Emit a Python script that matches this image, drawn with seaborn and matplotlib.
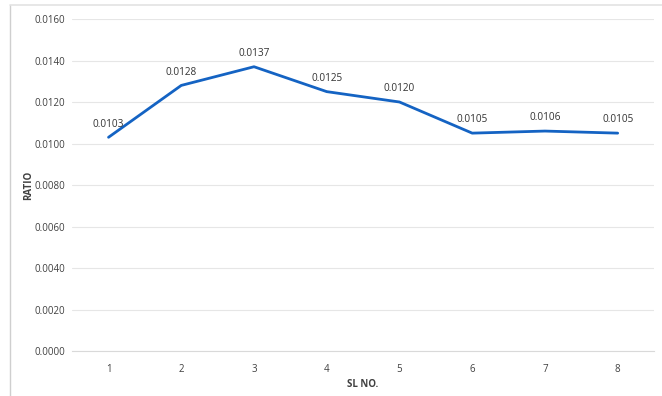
import matplotlib
matplotlib.use("Agg")
import matplotlib.pyplot as plt
import seaborn as sns
import pandas as pd
from matplotlib.ticker import FuncFormatter, MultipleLocator
from matplotlib.lines import Line2D

sl_no = [1, 2, 3, 4, 5, 6, 7, 8]
ratio = [0.0103, 0.0128, 0.0137, 0.0125, 0.0120, 0.0105, 0.0106, 0.0105]
labels = ["0.0103", "0.0128", "0.0137", "0.0125", "0.0120", "0.0105", "0.0106", "0.0105"]

df = pd.DataFrame({"SL NO.": sl_no, "RATIO": ratio})

sns.set_style("white")
plt.rcParams['font.family'] = ['Open Sans', 'DejaVu Sans']

fig = plt.figure(figsize=(6.62, 3.96), dpi=100)
ax = fig.add_axes([0.109, 0.1136, 0.879, 0.8384])

sns.lineplot(data=df, x="SL NO.", y="RATIO", ax=ax, color="#1463C3", linewidth=2.0)

for x, y, t in zip(sl_no, ratio, labels):
    ax.annotate(t, (x, y), xytext=(0, 5.5), textcoords="offset points",
                ha="center", va="bottom", fontsize=7.2, color="#333333")

ax.set_xlim(0.5, 8.5)
ax.set_ylim(0, 0.016)
ax.yaxis.set_major_locator(MultipleLocator(0.002))
ax.yaxis.set_major_formatter(FuncFormatter(lambda v, p: f"{v:.4f}"))
ax.set_xticks(sl_no)
ax.set_xticklabels([str(s) for s in sl_no])
ax.grid(axis="y", color="#e6e6e6", linewidth=0.8)
ax.grid(axis="x", visible=False)
for s in ["top", "right", "left"]:
    ax.spines[s].set_visible(False)
ax.spines["bottom"].set_color("#d9d9d9")
ax.spines["bottom"].set_linewidth(0.8)
ax.tick_params(axis="both", length=0, labelsize=7, colors="#404040")
ax.tick_params(axis="x", pad=9)
ax.tick_params(axis="y", pad=5)

ax.set_xlabel("SL NO.", fontsize=7, fontweight="bold", color="#404040", labelpad=3)
ax.set_ylabel("RATIO", fontsize=7, fontweight="bold", color="#404040", labelpad=0)

# light frame around the chart (left and top edges)
x0 = 10 / 662
y0 = 1 - 5 / 396
fig.add_artist(Line2D([x0, x0], [0, y0], transform=fig.transFigure,
                      color="#cfcfcf", linewidth=1.0))
fig.add_artist(Line2D([x0, 1], [y0, y0], transform=fig.transFigure,
                      color="#e3e3e3", linewidth=1.2))

fig.savefig("out.png", dpi=100)
